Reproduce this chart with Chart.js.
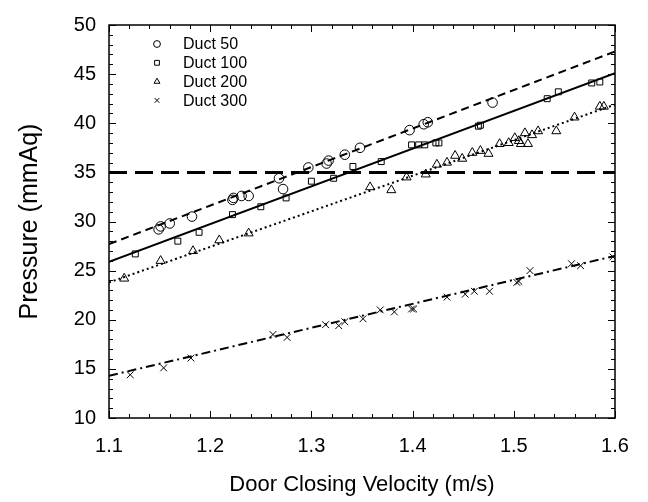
<!DOCTYPE html>
<html><head><meta charset="utf-8">
<script src="https://cdn.jsdelivr.net/npm/chart.js@4/dist/chart.umd.min.js"></script>
<style>html,body{margin:0;padding:0;background:#fff}#wrap{width:648px;height:502px}</style>
</head><body><div id="wrap"><canvas id="c" width="648" height="502"></canvas></div>
<script>
// ---- data ----
const seriesNames = ['Duct 50', 'Duct 100', 'Duct 200', 'Duct 300'];

const duct50X = [1.149,1.151,1.160,1.182,1.222,1.223,1.231,1.238,1.268,1.272,1.297,1.315,1.317,1.333,1.348,1.397,1.411,1.415,1.479];
const duct50Y = [29.2,29.5,29.8,30.5,32.2,32.4,32.6,32.6,34.4,33.3,35.5,35.9,36.2,36.8,37.5,39.3,39.9,40.1,42.1];

const duct100X = [1.126,1.168,1.189,1.222,1.250,1.275,1.300,1.322,1.341,1.369,1.399,1.406,1.412,1.423,1.426,1.465,1.467,1.533,1.544,1.577,1.585];
const duct100Y = [26.7,28.0,28.9,30.7,31.5,32.4,34.1,34.4,35.6,36.1,37.8,37.8,37.8,38.0,38.0,39.7,39.8,42.5,43.2,44.1,44.2];

const duct200X = [1.115,1.151,1.183,1.209,1.238,1.358,1.379,1.394,1.413,1.424,1.434,1.442,1.449,1.459,1.467,1.475,1.486,1.495,1.501,1.505,1.507,1.511,1.514,1.518,1.524,1.542,1.560,1.585,1.589];
const duct200Y = [24.2,26.0,27.0,28.1,28.8,33.5,33.2,34.5,34.8,35.8,36.0,36.7,36.4,37.0,37.2,36.9,37.9,38.0,38.5,38.2,37.9,39.0,37.9,38.8,39.2,39.2,40.6,41.7,41.7];

const duct300X = [1.121,1.154,1.181,1.262,1.276,1.314,1.327,1.333,1.351,1.368,1.382,1.399,1.401,1.434,1.452,1.461,1.476,1.503,1.505,1.516,1.557,1.566,1.598];
const duct300Y = [14.4,15.1,16.1,18.5,18.2,19.5,19.4,19.8,20.1,21.0,20.8,21.1,21.1,22.3,22.6,22.9,22.9,23.8,23.9,25.0,25.7,25.5,26.4];

// fitted lines (end points)
const fitX = [1.1, 1.6];
const fit50Y = [27.7, 47.3];
const fit100Y = [25.9, 45.1];
const fit200Y = [23.8, 41.9];
const fit300Y = [14.3, 26.5];

// threshold line
const thresholdX = [1.1, 1.6];
const thresholdY = [35, 35];

// axis ticks
const xTicks = [1.1, 1.2, 1.3, 1.4, 1.5, 1.6];
const yTicks = [10, 15, 20, 25, 30, 35, 40, 45, 50];

const pts = (xs, ys) => xs.map((v, i) => ({x: v, y: ys[i]}));

const FONT = "'Liberation Sans', Arial, sans-serif";
const markerStyles = ['circle', 'rect', 'triangle', 'crossRot'];
const markerRadius = [4.8, 4.2, 5.2, 4.8];

function scatterSet(label, xs, ys, i) {
  return {
    label, data: pts(xs, ys), showLine: false,
    pointStyle: markerStyles[i], pointRadius: markerRadius[i],
    pointBorderColor: '#000', pointBackgroundColor: 'rgba(0,0,0,0)',
    pointBorderWidth: 1, order: 1
  };
}
function lineSet(ys, dash, width, xs) {
  return {
    label: '_fit', data: pts(xs || fitX, ys), showLine: true, pointRadius: 0,
    borderColor: '#000', borderWidth: width, borderDash: dash, fill: false, order: 2
  };
}

const frame = {
  id: 'frame',
  afterDatasetsDraw(chart) {
    const {ctx, chartArea: a, scales: {x, y}} = chart;
    ctx.save();
    ctx.strokeStyle = '#000';
    ctx.lineWidth = 1.5;
    ctx.strokeRect(a.left, a.top, a.right - a.left, a.bottom - a.top);
    ctx.lineWidth = 1;
    ctx.beginPath();
    // x ticks: major 0.1, minor 0.02
    for (let k = 0; k <= 25; k++) {
      const v = 1.1 + k * 0.02;
      const px = Math.round(x.getPixelForValue(v)) + 0.5;
      const L = (k % 5 === 0) ? 7 : 4;
      ctx.moveTo(px, a.bottom); ctx.lineTo(px, a.bottom - L);
      ctx.moveTo(px, a.top); ctx.lineTo(px, a.top + L);
    }
    // y ticks: major 5, minor 1
    for (let v = 10; v <= 50; v++) {
      const py = Math.round(y.getPixelForValue(v)) + 0.5;
      const L = (v % 5 === 0) ? 7 : 4;
      ctx.moveTo(a.left, py); ctx.lineTo(a.left + L, py);
      ctx.moveTo(a.right, py); ctx.lineTo(a.right - L, py);
    }
    ctx.stroke();

    // legend inside plot
    const lx = 157, ly0 = 44, dy = 18.8;
    ctx.font = '16px ' + FONT;
    ctx.textBaseline = 'middle';
    ctx.textAlign = 'left';
    seriesNames.forEach((name, i) => {
      const yy = ly0 + i * dy;
      ctx.strokeStyle = '#000';
      ctx.fillStyle = 'rgba(0,0,0,0)';
      ctx.lineWidth = 1;
      Chart.helpers.drawPoint(ctx, {pointStyle: markerStyles[i], radius: 3.4, borderWidth: 1, rotation: 0}, lx, yy);
      ctx.fillStyle = '#000';
      ctx.fillText(name, 183, yy + 1);
    });
    ctx.restore();
  }
};

new Chart(document.getElementById('c'), {
  type: 'scatter',
  data: {
    datasets: [
      scatterSet(seriesNames[0], duct50X, duct50Y, 0),
      scatterSet(seriesNames[1], duct100X, duct100Y, 1),
      scatterSet(seriesNames[2], duct200X, duct200Y, 2),
      scatterSet(seriesNames[3], duct300X, duct300Y, 3),
      lineSet(fit50Y, [8, 5], 2),
      lineSet(fit100Y, [], 2),
      lineSet(fit200Y, [2, 3], 2),
      lineSet(fit300Y, [9, 4, 2, 4], 2),
      lineSet(thresholdY, [18, 8], 3, thresholdX)
    ]
  },
  options: {
    responsive: false,
    animation: false,
    devicePixelRatio: 1,
    layout: {padding: {top: 14, right: 33, left: 0, bottom: 0}},
    plugins: {legend: {display: false}, tooltip: {enabled: false}},
    scales: {
      x: {
        type: 'linear', min: 1.1, max: 1.6,
        afterBuildTicks: s => { s.ticks = xTicks.map(v => ({value: v})); },
        afterFit: s => { s.height = 84; },
        grid: {display: false, drawTicks: false},
        border: {display: false},
        ticks: {color: '#000', font: {family: FONT, size: 20}, padding: 16, maxRotation: 0,
                callback: v => Number(v).toFixed(1)},
        title: {display: true, text: 'Door Closing Velocity (m/s)', color: '#000',
                font: {family: FONT, size: 22}, padding: {top: 0, bottom: 4}}
      },
      y: {
        type: 'linear', min: 10, max: 50,
        afterBuildTicks: s => { s.ticks = yTicks.map(v => ({value: v})); },
        afterFit: s => { s.width = 109; },
        grid: {display: false, drawTicks: false},
        border: {display: false},
        ticks: {color: '#000', font: {family: FONT, size: 20}, padding: 13},
        title: {display: true, text: 'Pressure (mmAq)', color: '#000',
                font: {family: FONT, size: 25}, padding: {top: 15, bottom: 0}}
      }
    }
  },
  plugins: [frame]
});
</script></body></html>
